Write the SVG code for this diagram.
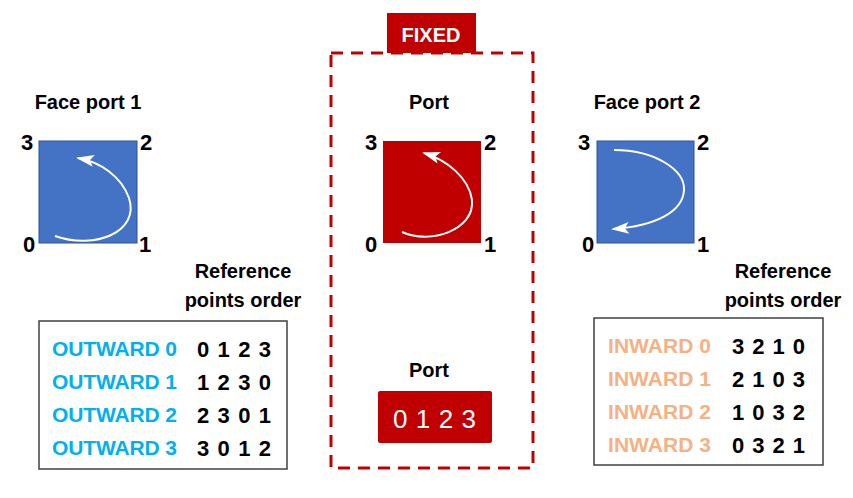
<svg xmlns="http://www.w3.org/2000/svg" width="853" height="498" viewBox="0 0 853 498">
<style>
text{font-family:"Liberation Sans",Arial,sans-serif;font-weight:bold;font-size:20px;fill:#000}
.c{text-anchor:middle}
.n{font-size:22px}
.d{font-size:22px}
.out{fill:#00B0F0;font-size:21px}
.in{fill:#F4B183;font-size:21px}
.tbl{fill:#fff;stroke:#404040;stroke-width:1.5}
.arc{fill:none;stroke:#fff;stroke-width:2}
</style>
<defs>
<marker id="ah" viewBox="0 0 18 12" refX="16" refY="6" markerWidth="18" markerHeight="12" markerUnits="userSpaceOnUse" orient="auto" overflow="visible">
<path d="M0,0 L18,6 L0,12 L4,6 z" fill="#fff"/>
</marker>
</defs>
<rect width="853" height="498" fill="#fff"/>

<g id="face1">
<text class="c" x="88" y="109">Face port 1</text>
<rect x="39" y="141" width="98" height="102" fill="#4472C4" stroke="#2F528F" stroke-width="1"/>
<path class="arc" d="M55,236 C95,250 140,232 129,198 C121,176 100,162 78,158" marker-end="url(#ah)"/>
<text class="c n" x="27" y="150">3</text>
<text class="c n" x="146" y="150">2</text>
<text class="c n" x="29" y="252">0</text>
<text class="c n" x="145" y="252">1</text>
</g>

<g id="fixed">
<rect x="331" y="53" width="202" height="415" fill="none" stroke="#C00000" stroke-width="3" stroke-dasharray="12,8"/>
<rect x="387" y="13" width="89" height="40" fill="#C00000"/>
<text class="c" x="431" y="42" style="fill:#fff">FIXED</text>
</g>

<g id="port">
<text class="c" x="429" y="109">Port</text>
<rect x="383" y="141" width="98" height="102" fill="#C00000"/>
<path class="arc" d="M402,232 C430,245 475,230 472,200 C469,178 447,160 424,153" marker-end="url(#ah)"/>
<text class="c n" x="371" y="150">3</text>
<text class="c n" x="490" y="150">2</text>
<text class="c n" x="371" y="252">0</text>
<text class="c n" x="490" y="252">1</text>
</g>

<g id="face2">
<text class="c" x="647" y="109">Face port 2</text>
<rect x="597" y="141" width="97" height="102" fill="#4472C4" stroke="#2F528F" stroke-width="1"/>
<path class="arc" d="M614,150 C655,150 685,170 684,190 C683,212 655,226 613,229" marker-end="url(#ah)"/>
<text class="c n" x="584" y="150">3</text>
<text class="c n" x="703" y="150">2</text>
<text class="c n" x="588" y="252">0</text>
<text class="c n" x="703" y="252">1</text>
</g>

<g id="port-order">
<text class="c" x="429" y="377">Port</text>
<rect x="378" y="391" width="114" height="52" fill="#C00000" rx="2"/>
<text x="393" y="428" textLength="83" style="fill:#fff;font-weight:normal;font-size:26px">0 1 2 3</text>
</g>

<g id="outward-table">
<text class="c" x="243" y="278">Reference</text>
<text class="c" x="243" y="307">points order</text>
<rect class="tbl" x="39" y="321" width="248" height="148"/>
<text class="out" x="52" y="356" textLength="125">OUTWARD 0</text>
<text class="out" x="52" y="389" textLength="125">OUTWARD 1</text>
<text class="out" x="52" y="422" textLength="125">OUTWARD 2</text>
<text class="out" x="52" y="455" textLength="125">OUTWARD 3</text>
<text class="d" x="197" y="357" textLength="74">0 1 2 3</text>
<text class="d" x="197" y="390" textLength="74">1 2 3 0</text>
<text class="d" x="197" y="423" textLength="74">2 3 0 1</text>
<text class="d" x="197" y="456" textLength="74">3 0 1 2</text>
</g>

<g id="inward-table">
<text class="c" x="783" y="278">Reference</text>
<text class="c" x="783" y="307">points order</text>
<rect class="tbl" x="594" y="318" width="229" height="147"/>
<text class="in" x="608" y="353" textLength="103">INWARD 0</text>
<text class="in" x="608" y="386" textLength="103">INWARD 1</text>
<text class="in" x="608" y="419" textLength="103">INWARD 2</text>
<text class="in" x="608" y="452" textLength="103">INWARD 3</text>
<text class="d" x="732" y="354" textLength="73">3 2 1 0</text>
<text class="d" x="732" y="387" textLength="73">2 1 0 3</text>
<text class="d" x="732" y="420" textLength="73">1 0 3 2</text>
<text class="d" x="732" y="453" textLength="73">0 3 2 1</text>
</g>

<g id="connectors"></g>
</svg>
